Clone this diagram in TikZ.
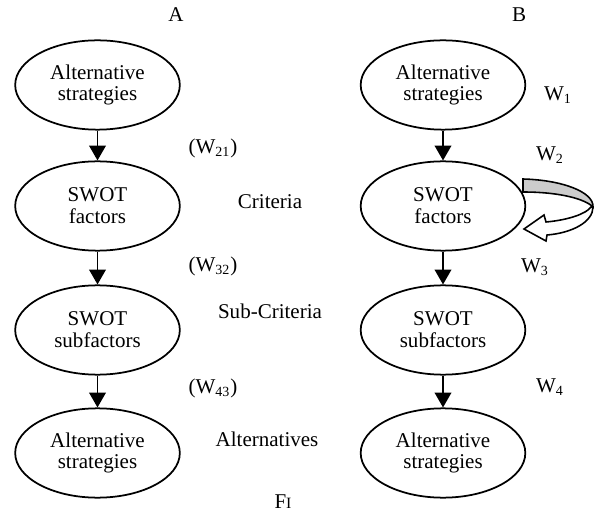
\documentclass[tikz,border=0pt]{standalone}
\usepackage{fontspec}
\setmainfont{Liberation Serif}
\usetikzlibrary{shapes.geometric,arrows.meta}

\tikzset{
  every node/.style={font=\fontsize{12}{12.5}\selectfont},
  factor/.style={ellipse, draw, line width=1pt, minimum width=94pt, minimum height=51pt, align=center, inner sep=1pt},
  link/.style={-{Triangle[length=8.5pt,width=9.5pt]}, line width=1pt},
}

\begin{document}
\begin{tikzpicture}[x=0.571pt,y=-0.571pt]
	\useasboundingbox (0,0) rectangle (604,516);

	% hierarchy A
	\node (A) at (176,15) {A};
	\node[factor] (a1) at (97.5,85) {Alternative\\strategies};
	\node[factor] (a2) at (97.5,206) {SWOT\\factors};
	\node[factor] (a3) at (97.5,330) {SWOT\\subfactors};
	\node[factor] (a4) at (97.5,453) {Alternative\\strategies};
	\draw (a1) edge[link] (a2);
	\draw (a2) edge[link] (a3);
	\draw (a3) edge[link] (a4);

	\node (w21) at (213,148) {(W\textsubscript{21})};
	\node (w32) at (213,266) {(W\textsubscript{32})};
	\node (w43) at (213,388) {(W\textsubscript{43})};
	\node (crit) at (270,202) {Criteria};
	\node (sub) at (270,311) {Sub-Criteria};
	\node (alt) at (267,439) {Alternatives};
	\node (fi) at (283,502) {F{\fontsize{9}{10}\selectfont I}};

	% network B
	\node (B) at (519,15) {B};
	\node[factor] (b1) at (443,85) {Alternative\\strategies};
	\node[factor] (b2) at (443,206) {SWOT\\factors};
	\node[factor] (b3) at (443,330) {SWOT\\subfactors};
	\node[factor] (b4) at (443,453) {Alternative\\strategies};
	\draw (b1) edge[link] (b2);
	\draw (b2) edge[link] (b3);
	\draw (b3) edge[link] (b4);

	\node (w1) at (558,95) {W\textsubscript{1}};
	\node (w2) at (550,155) {W\textsubscript{2}};
	\node (w3) at (535,267) {W\textsubscript{3}};
	\node (w4) at (550,387) {W\textsubscript{4}};

	% loop on b2
	\filldraw[fill=gray!40, line width=0.9pt] (523,179) .. controls (562,180) and (594,192) .. (593,207) .. controls (585,199) and (560,192) .. (523,192) -- cycle;
	\filldraw[fill=white, line width=0.9pt] (593,207) .. controls (593,222) and (572,233) .. (547,235) -- (546,241) -- (524,229) -- (544,215) -- (546,222) .. controls (568,220) and (586,214) .. (591,207) -- cycle;
\end{tikzpicture}
\end{document}
